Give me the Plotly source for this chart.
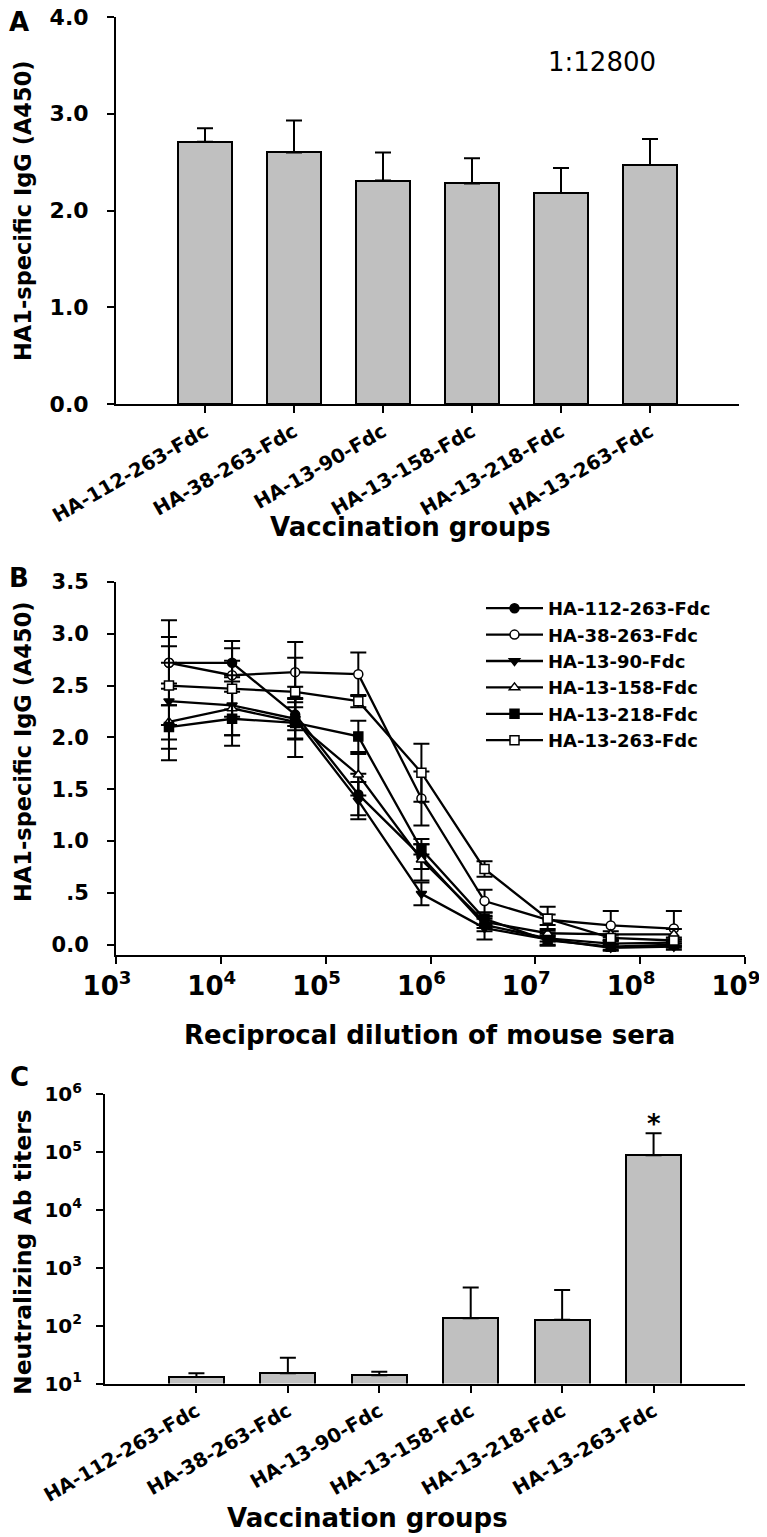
import plotly.graph_objects as go

# reference canvas size, and page offset (browser body margin)
W, H = 767, 1537
OFF = 8
FW, FH = W - OFF, H - OFF

# ---------------- data ----------------
groups = ["HA-112-263-Fdc", "HA-38-263-Fdc", "HA-13-90-Fdc",
          "HA-13-158-Fdc", "HA-13-218-Fdc", "HA-13-263-Fdc"]

# Panel A: HA1-specific IgG at 1:12800
igg_mean = [2.71, 2.60, 2.31, 2.28, 2.18, 2.47]
igg_err = [0.14, 0.33, 0.29, 0.26, 0.26, 0.27]

# Panel B: dilution curves
dilutions = [3200, 12800, 51200, 204800, 819200, 3276800, 13107200, 52428800, 209715200]
b_ha112 = [2.72, 2.72, 2.22, 1.45, 0.85, 0.19, 0.06, 0.01, 0.02]
b_ha38 = [2.72, 2.60, 2.63, 2.61, 1.41, 0.42, 0.24, 0.185, 0.155]
b_ha13_90 = [2.35, 2.31, 2.18, 1.39, 0.49, 0.16, 0.05, -0.03, -0.02]
b_ha13_158 = [2.15, 2.28, 2.15, 1.64, 0.82, 0.22, 0.11, 0.10, 0.10]
b_ha13_218 = [2.10, 2.18, 2.14, 2.01, 0.92, 0.25, 0.04, -0.02, 0.00]
b_ha13_263 = [2.50, 2.47, 2.44, 2.35, 1.66, 0.73, 0.25, 0.065, 0.04]

e_ha112 = [0.41, 0.14, 0.15, 0.20, 0.12, 0.06, 0.03, 0.03, 0.03]
e_ha38 = [0.25, 0.33, 0.29, 0.21, 0.26, 0.11, 0.05, 0.14, 0.17]
e_ha13_90 = [0.37, 0.29, 0.20, 0.18, 0.11, 0.11, 0.06, 0.03, 0.03]
e_ha13_158 = [0.37, 0.26, 0.34, 0.20, 0.20, 0.06, 0.04, 0.03, 0.05]
e_ha13_218 = [0.21, 0.26, 0.15, 0.15, 0.05, 0.06, 0.04, 0.03, 0.03]
e_ha13_263 = [0.38, 0.27, 0.33, 0.06, 0.28, 0.075, 0.115, 0.03, 0.03]

# Panel C: neutralizing titers
nt_mean = [12.9, 15.1, 13.9, 134, 126, 87900]
nt_err = [2.2, 12.7, 2.0, 320, 288, 121100]

a_yticks = [0, 1, 2, 3, 4]
a_yticktext = ["0.0", "1.0", "2.0", "3.0", "4.0"]
b_yticks = [0, 0.5, 1.0, 1.5, 2.0, 2.5, 3.0, 3.5]
b_yticktext = ["0.0", ".5", "1.0", "1.5", "2.0", "2.5", "3.0", "3.5"]
b_xticks = [1e3, 1e4, 1e5, 1e6, 1e7, 1e8, 1e9]
b_xticktext = ["10<sup>%d</sup>\u00a0\u00a0" % k for k in range(3, 10)]
c_yticks = [1e1, 1e2, 1e3, 1e4, 1e5, 1e6]
c_yticktext = ["10<sup>%d</sup>" % k for k in range(1, 7)]

# ---------------- helpers ----------------
def px(x):
    return (x - OFF) / FW

def py(y):
    return 1 - (y - OFF) / FH

FONT = "DejaVu Sans"
BOLD = dict(family=FONT, weight="bold", color="black")

fig = go.Figure()

# Panel A bars
fig.add_trace(go.Bar(
    x=groups, y=igg_mean, width=0.6, xaxis="x", yaxis="y",
    marker=dict(color="#c0c0c0", line=dict(color="black", width=2)),
    error_y=dict(type="data", symmetric=False, array=igg_err,
                 arrayminus=[0] * len(igg_err), color="black", thickness=2, width=8),
    showlegend=False))

# Panel B lines
series = [
    ("HA-112-263-Fdc", b_ha112, e_ha112, "circle", "black"),
    ("HA-38-263-Fdc", b_ha38, e_ha38, "circle", "white"),
    ("HA-13-90-Fdc", b_ha13_90, e_ha13_90, "triangle-down", "black"),
    ("HA-13-158-Fdc", b_ha13_158, e_ha13_158, "triangle-up", "white"),
    ("HA-13-218-Fdc", b_ha13_218, e_ha13_218, "square", "black"),
    ("HA-13-263-Fdc", b_ha13_263, e_ha13_263, "square", "white"),
]
for name, ys, es, sym, fill in series:
    fig.add_trace(go.Scatter(
        x=dilutions, y=ys, name=name, mode="lines+markers", xaxis="x2", yaxis="y2",
        line=dict(color="black", width=2.3),
        marker=dict(symbol=sym, size=9, color=fill, line=dict(color="black", width=1.5)),
        error_y=dict(type="data", array=es, color="black", thickness=2, width=8)))

# Panel C bars
fig.add_trace(go.Bar(
    x=groups, y=nt_mean, width=0.6, xaxis="x3", yaxis="y3",
    marker=dict(color="#c0c0c0", line=dict(color="black", width=2)),
    error_y=dict(type="data", symmetric=False, array=nt_err,
                 arrayminus=[0] * len(nt_err), color="black", thickness=2, width=8),
    showlegend=False))

axis_common = dict(showline=True, linewidth=2, linecolor="black", ticks="outside",
                   ticklen=7, tickwidth=2, tickcolor="black", showgrid=False,
                   zeroline=False, automargin=False, ticklabeloverflow="allow")

fig.update_layout(
    template="none",
    width=FW, height=FH, margin=dict(l=0, r=0, t=0, b=0, autoexpand=False),
    paper_bgcolor="white", plot_bgcolor="white",
    font=dict(family=FONT, color="black"),
    bargap=0,
    # Panel A
    xaxis=dict(axis_common, domain=[px(116), px(739)], anchor="y", range=[-1, 6],
               tickangle=-30, tickfont=dict(BOLD, size=19.5), ticklabelstandoff=0),
    yaxis=dict(axis_common, domain=[py(404), py(17)], anchor="x", range=[0, 4],
               tickvals=a_yticks, ticktext=a_yticktext,
               tickfont=dict(BOLD, size=22), ticklabelstandoff=14),
    # Panel B
    xaxis2=dict(axis_common, domain=[px(116), px(745)], anchor="y2", type="log",
                range=[2.9999, 9.0001], tickvals=b_xticks, ticktext=b_xticktext,
                tickfont=dict(BOLD, size=26), ticklabelstandoff=0),
    yaxis2=dict(axis_common, domain=[py(955), py(582)], anchor="x2", range=[-0.1, 3.5],
                tickvals=b_yticks, ticktext=b_yticktext,
                tickfont=dict(BOLD, size=21), ticklabelstandoff=14),
    # Panel C
    xaxis3=dict(axis_common, domain=[px(105), px(745)], anchor="y3", range=[-1, 6],
                tickangle=-30, tickfont=dict(BOLD, size=19.5), ticklabelstandoff=0),
    yaxis3=dict(axis_common, domain=[py(1383.5), py(1094)], anchor="x3", type="log",
                range=[1, 6], tickvals=c_yticks, ticktext=c_yticktext,
                tickfont=dict(BOLD, size=20), ticklabelstandoff=10),
    legend=dict(x=px(481), y=py(590), xanchor="left", yanchor="top",
                font=dict(BOLD, size=18), bgcolor="rgba(0,0,0,0)",
                itemwidth=57, tracegroupgap=0, borderwidth=0),
)

ann = []
def add_text(x, y, text, size, angle=0, bold=True, xref="paper", yref="paper"):
    f = dict(family=FONT, size=size, color="black")
    if bold:
        f["weight"] = "bold"
    ann.append(dict(x=x, y=y, xref=xref, yref=yref, text=text, showarrow=False,
                    textangle=angle, font=f, xanchor="center", yanchor="middle"))

add_text(px(19), py(22), "A", 26)
add_text(px(19), py(578), "B", 26)
add_text(px(19), py(1077), "C", 26)
add_text(px(23), py(211), "HA1-specific IgG (A450)", 22.5, angle=-90)
add_text(px(23), py(752), "HA1-specific IgG (A450)", 22.5, angle=-90)
add_text(px(23), py(1252), "Neutralizing Ab titers", 23.5, angle=-90)
add_text(px(410), py(527), "Vaccination groups", 26)
add_text(px(429), py(1035), "Reciprocal dilution of mouse sera", 26)
add_text(px(367), py(1518), "Vaccination groups", 26)
add_text(4.46, 3.53, "1:12800", 26, bold=False, xref="x", yref="y")
add_text(5, 5.48, "*", 26, xref="x3", yref="y3")
fig.update_layout(annotations=ann)

fig.write_html("out.html")
